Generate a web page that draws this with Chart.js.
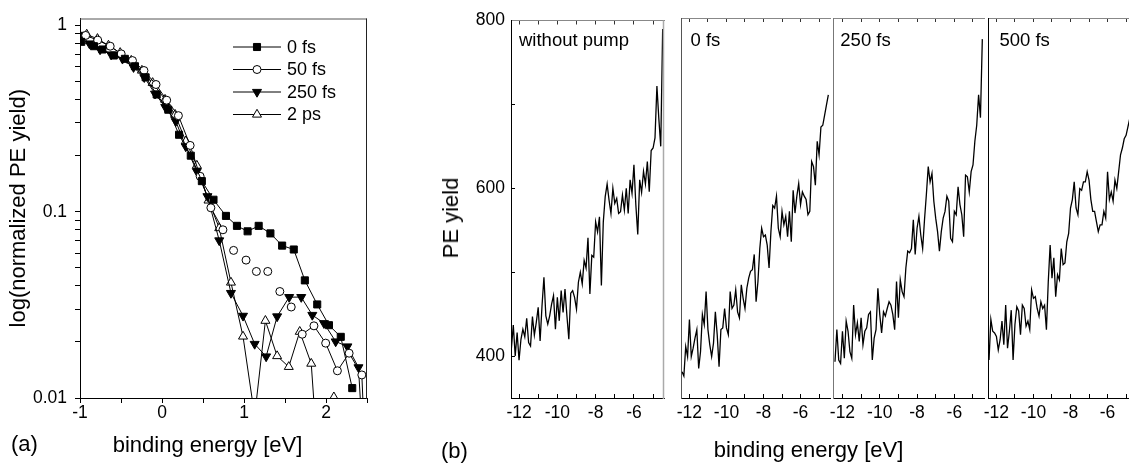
<!DOCTYPE html>
<html><head><meta charset="utf-8">
<script src="https://cdn.jsdelivr.net/npm/chart.js@4.4.0/dist/chart.umd.min.js"></script>
<style>
html,body{margin:0;padding:0;overflow:hidden;background:#fff;width:1129px;height:465px;position:relative;}
canvas{position:absolute;top:0;}
.t{position:absolute;font-family:'Liberation Sans',Arial,Helvetica,sans-serif;color:#000;white-space:nowrap;line-height:1;font-size:22px;}
</style></head><body>
<canvas id="ca" width="380" height="465" style="left:0px"></canvas>
<canvas id="cb1" width="250" height="465" style="left:420px"></canvas>
<canvas id="cb2" width="173" height="465" style="left:667px"></canvas>
<canvas id="cb3" width="174" height="465" style="left:820px"></canvas>
<canvas id="cb4" width="173" height="465" style="left:974px"></canvas>
<div class="t" style="left:11px;top:433px">(a)</div>
<div class="t" style="left:207.5px;top:434px;transform:translateX(-50%)">binding energy [eV]</div>
<div class="t" style="left:441px;top:440px">(b)</div>
<div class="t" style="left:808.5px;top:439px;transform:translateX(-50%)">binding energy [eV]</div>
<div class="t" style="left:451px;top:218px;transform:translate(-50%,-50%) rotate(-90deg)">PE yield</div>
<script>
// ---------- panel (a) data ----------
const seriesA = ['0 fs', '50 fs', '250 fs', '2 ps'];
const be0fs = [-0.985,-0.83,-0.727,-0.588,-0.453,-0.33,-0.2,-0.065,0.077,0.208,0.351,0.486,0.628,0.78,0.914,1.044,1.179,1.322,1.465,1.607,1.742,1.893,2.036,2.18,2.32];
const y0fs  = [0.817,0.774,0.743,0.69,0.662,0.604,0.527,0.426,0.353,0.259,0.2,0.146,0.116,0.095,0.084,0.0785,0.084,0.0765,0.0658,0.0627,0.0428,0.0318,0.0246,0.0213,0.0113];
const be50fs = [-0.931,-0.784,-0.632,-0.498,-0.36,-0.22,-0.073,0.057,0.2,0.343,0.465,0.596,0.743,0.873,1.025,1.151,1.29,1.437,1.576,1.71,1.853,1.996,2.139,2.282,2.437,2.5];
const y50fs  = [0.884,0.834,0.774,0.704,0.648,0.573,0.482,0.397,0.328,0.227,0.155,0.105,0.08,0.062,0.055,0.0478,0.0478,0.0373,0.0308,0.022,0.0244,0.0197,0.014,0.0174,0.0133,0.003];
const be250fs = [-1.0,-0.885,-0.755,-0.62,-0.482,-0.347,-0.216,-0.085,0.04,0.168,0.29,0.425,0.554,0.698,0.841,0.988,1.13,1.27,1.404,1.551,1.698,1.833,1.975,2.118,2.261,2.396,2.47];
const y250fs  = [0.89,0.8,0.743,0.698,0.662,0.597,0.527,0.43,0.365,0.306,0.224,0.165,0.121,0.0701,0.0366,0.0276,0.0195,0.0167,0.0274,0.0348,0.0348,0.0279,0.0252,0.0201,0.0189,0.0146,0.004];
const be2ps = [-0.918,-0.787,-0.653,-0.51,-0.375,-0.245,-0.114,0.037,0.16,0.29,0.425,0.567,0.698,0.841,0.988,1.13,1.261,1.404,1.546,1.68,1.82,1.96,2.096,2.24];
const y2ps  = [0.895,0.848,0.781,0.713,0.648,0.573,0.492,0.4,0.332,0.239,0.177,0.115,0.0817,0.0417,0.0214,0.008,0.026,0.0168,0.0147,0.0227,0.0153,0.002,0.0101,0.003];
const xTicksA = [-1,-0.5,0,0.5,1,1.5,2,2.5];
const yTicksA = [0.01,0.02,0.03,0.04,0.05,0.06,0.07,0.08,0.09,0.1,0.2,0.3,0.4,0.5,0.6,0.7,0.8,0.9,1];
const yLabelsA = ['0.01','0.1','1'];

// ---------- panel (b) data ----------
const panelsB = ['without pump', '0 fs', '250 fs', '500 fs'];
const energy = [-12.4,-12.3,-12.2,-12.1,-12.0,-11.9,-11.8,-11.7,-11.6,-11.5,-11.4,-11.3,-11.2,-11.1,-11.0,-10.9,-10.8,-10.7,-10.6,-10.5,-10.4,-10.3,-10.2,-10.1,-10.0,-9.9,-9.8,-9.7,-9.6,-9.5,-9.4,-9.3,-9.2,-9.1,-9.0,-8.9,-8.8,-8.7,-8.6,-8.5,-8.4,-8.3,-8.2,-8.1,-8.0,-7.9,-7.8,-7.7,-7.6,-7.5,-7.4,-7.3,-7.2,-7.1,-7.0,-6.9,-6.8,-6.7,-6.6,-6.5,-6.4,-6.3,-6.2,-6.1,-6.0,-5.9,-5.8,-5.7,-5.6,-5.5,-5.4,-5.3,-5.2,-5.1,-5.0,-4.9,-4.8,-4.7,-4.6,-4.5];
const withoutPump = [409,437,400,428,395,420,432,423,445,416,412,447,425,440,458,418,460,494,448,438,448,462,472,432,470,442,478,452,480,448,420,475,478,470,456,488,500,486,514,505,541,474,520,518,560,548,566,484,560,590,605,586,570,600,582,588,570,572,592,574,600,570,610,594,628,580,545,610,595,620,605,632,596,645,648,660,722,683,650,790];
const pump0fs = [381,376,411,399,443,399,409,421,431,385,405,449,437,476,431,413,399,415,452,425,387,431,433,456,433,425,476,456,460,478,452,445,484,468,456,480,492,500,502,520,464,488,527,551,541,543,531,504,547,578,575,589,551,541,571,555,565,541,571,535,596,569,589,604,579,594,589,585,567,571,630,624,602,654,638,671,673,685,697,709];
const pump250fs = [393,431,395,391,429,397,441,429,405,397,460,425,439,417,445,413,429,433,449,452,395,421,431,480,449,427,452,447,456,464,460,449,431,488,445,490,476,470,504,524,522,527,561,520,551,565,543,527,561,591,624,606,616,583,563,547,524,547,563,571,589,583,539,535,571,567,600,579,567,541,614,612,594,618,626,654,673,709,682,775];
const pump500fs = [395,443,429,427,423,407,419,441,413,460,409,429,454,395,437,458,453,425,460,456,435,441,431,478,468,470,456,447,464,456,460,431,488,531,492,516,470,496,490,527,508,510,535,545,575,585,606,575,567,598,596,606,606,618,608,585,571,571,559,547,555,555,571,563,618,585,594,583,608,598,618,638,646,657,661,671,681];
const xTicksB = [-12,-11,-10,-9,-8,-7,-6,-5];
const yTicksB = [400,500,600,700,800];
const yLabelsB = [400,600,800];

// ---------- setup ----------
const FONT = "'Liberation Sans', Arial, Helvetica, sans-serif";
const TICK = 17.5;
Chart.defaults.font.family = FONT;
Chart.defaults.color = '#000';
Chart.defaults.animation = false;

function marker(ctx, style, r, rot, x, y) {
  ctx.beginPath();
  if (style === 'rect') {
    const s = Math.SQRT1_2 * r;
    ctx.rect(x - s, y - s, 2 * s, 2 * s);
  } else if (style === 'circle') {
    ctx.arc(x, y, r, 0, Math.PI * 2);
  } else {
    let a = rot * Math.PI / 180;
    ctx.moveTo(x + Math.sin(a) * r, y - Math.cos(a) * r);
    a += 2 * Math.PI / 3; ctx.lineTo(x + Math.sin(a) * r, y - Math.cos(a) * r);
    a += 2 * Math.PI / 3; ctx.lineTo(x + Math.sin(a) * r, y - Math.cos(a) * r);
    ctx.closePath();
  }
  ctx.fill(); ctx.stroke();
}

const framePlugin = {
  id: 'frame',
  afterDraw(chart, args, o) {
    const a = chart.chartArea, ctx = chart.ctx;
    ctx.save();
    if (o.top) {
      ctx.strokeStyle = o.top; ctx.lineWidth = 1;
      ctx.beginPath(); ctx.moveTo(a.left, a.top + 0.5); ctx.lineTo(a.right, a.top + 0.5); ctx.stroke();
    }
    if (o.right) {
      ctx.strokeStyle = o.right; ctx.lineWidth = o.rightWidth || 1;
      ctx.beginPath(); ctx.moveTo(a.right - 0.5, a.top); ctx.lineTo(a.right - 0.5, a.bottom + 1); ctx.stroke();
    }
    if (o.label) {
      ctx.fillStyle = '#000';
      ctx.font = '18.5px ' + FONT;
      ctx.textBaseline = 'alphabetic'; ctx.textAlign = 'left';
      ctx.fillText(o.label, a.left + o.dx, o.baseline);
    }
    ctx.restore();
  }
};

const lineLegend = {
  id: 'lineLegend',
  afterDraw(chart, args, o) {
    const ctx = chart.ctx;
    chart.data.datasets.forEach((ds, i) => {
      const y = o.y0 + i * o.dy;
      ctx.save();
      ctx.strokeStyle = '#000'; ctx.lineWidth = 1;
      ctx.beginPath(); ctx.moveTo(o.x0, y); ctx.lineTo(o.x1, y); ctx.stroke();
      ctx.fillStyle = ds.pointBackgroundColor; ctx.strokeStyle = '#000';
      marker(ctx, ds.pointStyle, ds.pointRadius, ds.pointRotation || 0, (o.x0 + o.x1) / 2, y);
      ctx.fillStyle = '#000'; ctx.font = o.font + 'px ' + FONT;
      ctx.textBaseline = 'middle'; ctx.textAlign = 'left';
      ctx.fillText(ds.label, o.tx, y + 1);
      ctx.restore();
    });
  }
};

function seriesA_ds(label, xs, ys, style, r, fill, rot, extra) {
  return Object.assign({
    label, data: xs.map((x, i) => ({x, y: ys[i]})),
    borderColor: '#000', borderWidth: 1, tension: 0, fill: false,
    pointStyle: style, pointRadius: r, pointRotation: rot,
    pointBackgroundColor: fill, pointBorderColor: '#000', pointBorderWidth: 1
  }, extra || {});
}

const hide50 = { segment: { borderColor: c => (c.p0.parsed.x > 0.74 && c.p1.parsed.x < 1.72) ? 'rgba(0,0,0,0)' : '#000' } };

new Chart(document.getElementById('ca'), {
  type: 'line',
  data: { datasets: [
    seriesA_ds(seriesA[0], be0fs, y0fs, 'rect', 5, '#000', 0),
    seriesA_ds(seriesA[1], be50fs, y50fs, 'circle', 4, '#fff', 0, hide50),
    seriesA_ds(seriesA[2], be250fs, y250fs, 'triangle', 5.2, '#000', 180),
    seriesA_ds(seriesA[3], be2ps, y2ps, 'triangle', 5.2, '#fff', 0)
  ]},
  options: {
    responsive: false, animation: false,
    layout: { padding: { left: 0, top: 18, right: 13, bottom: 0 } },
    plugins: {
      legend: { display: false }, tooltip: { enabled: false },
      frame: { top: '#555', right: '#222' },
      lineLegend: { x0: 233, x1: 281, tx: 287, y0: 47, dy: 22.5, font: 18 }
    },
    scales: {
      x: {
        type: 'linear', position: 'bottom', min: -1, max: 2.5,
        afterFit: s => { s.height = 67; },
        afterBuildTicks: s => { s.ticks = xTicksA.map(v => ({ value: v })); },
        ticks: { autoSkip: false, maxRotation: 0, padding: 0, font: { size: TICK },
          callback: v => Math.abs(v - Math.round(v)) < 1e-9 ? String(Math.round(v)) : '' },
        grid: { display: true, drawOnChartArea: false, drawTicks: true, tickLength: 5, tickColor: '#000', color: '#000' },
        border: { display: true, color: '#000', width: 1 }
      },
      y: {
        type: 'logarithmic', min: 0.01, max: 1.09,
        afterFit: s => { s.width = 80; },
        afterBuildTicks: s => { s.ticks = yTicksA.map(v => ({ value: v })); },
        title: { display: true, text: 'log(normalized PE yield)', font: { size: 22 }, padding: { top: 6, bottom: 0 } },
        ticks: { autoSkip: false, padding: 8, font: { size: TICK },
          callback: v => { const e = Math.log10(v), r = Math.round(e); return Math.abs(e - r) < 1e-6 ? yLabelsA[r + 2] : ''; } },
        grid: { display: true, drawOnChartArea: false, drawTicks: true, tickLength: 5, tickColor: '#000', color: '#000' },
        border: { display: true, color: '#000', width: 1 }
      }
    }
  },
  plugins: [framePlugin, lineLegend]
});

function spectrum(id, ys, xr, cfg) {
  const pts = ys.map((y, i) => ({ x: energy[i], y }));
  return new Chart(document.getElementById(id), {
    type: 'line',
    data: { datasets: [{ data: pts, borderColor: '#000', borderWidth: 1.3, pointRadius: 0, tension: 0, fill: false }] },
    options: {
      responsive: false, animation: false,
      layout: { padding: { left: 0, top: 18, right: cfg.padRight, bottom: 0 } },
      plugins: {
        legend: { display: false }, tooltip: { enabled: false },
        frame: { right: cfg.rightColor, rightWidth: cfg.rightWidth || 1, label: cfg.label, dx: cfg.dx, baseline: 46 }
      },
      scales: {
        x: {
          type: 'linear', position: 'bottom', min: xr[0], max: xr[1],
          afterFit: s => { s.height = 67; },
          afterBuildTicks: s => { s.ticks = xTicksB.map(v => ({ value: v })); },
          ticks: { autoSkip: false, maxRotation: 0, padding: 9, font: { size: TICK },
            callback: v => (Math.round(v) % 2 === 0) ? String(Math.round(v)) : '' },
          grid: { display: true, drawOnChartArea: false, drawTicks: true, tickLength: -4, tickColor: '#000', color: '#000' },
          border: { display: true, color: '#000', width: 1 }
        },
        x2: {
          type: 'linear', position: 'top', min: xr[0], max: xr[1],
          afterFit: s => { s.height = 0; },
          afterBuildTicks: s => { s.ticks = xTicksB.map(v => ({ value: v })); },
          ticks: { display: false },
          grid: { display: true, drawOnChartArea: false, drawTicks: true, tickLength: -4, tickColor: '#333', color: '#333' },
          border: { display: true, color: '#888', width: 1 }
        },
        y: {
          type: 'linear', min: 350, max: 800,
          afterFit: s => { s.width = cfg.yWidth; },
          afterBuildTicks: s => { s.ticks = yTicksB.map(v => ({ value: v })); },
          ticks: { display: cfg.first, autoSkip: false, padding: 10, font: { size: TICK },
            callback: v => yLabelsB.includes(v) ? String(v) : '' },
          grid: { display: cfg.first, drawOnChartArea: false, drawTicks: true, tickLength: -4, tickColor: '#000', color: '#000' },
          border: { display: true, color: cfg.leftColor, width: 1 }
        }
      }
    },
    plugins: [framePlugin]
  });
}

spectrum('cb1', withoutPump, [-12.42, -4.43], { first: true, yWidth: 91, padRight: 6, leftColor: '#000', rightColor: '#aaa', rightWidth: 1.5, label: panelsB[0], dx: 8 });
spectrum('cb2', pump0fs, [-12.43, -4.41], { first: false, yWidth: 10, padRight: 10, leftColor: '#555', rightColor: null, label: panelsB[1], dx: 9 });
spectrum('cb3', pump250fs, [-12.49, -4.41], { first: false, yWidth: 10, padRight: 10, leftColor: '#777', rightColor: null, label: panelsB[2], dx: 7 });
spectrum('cb4', pump500fs, [-12.43, -4.41], { first: false, yWidth: 10, padRight: 10, leftColor: '#000', rightColor: '#000', label: panelsB[3], dx: 11 });
</script>
</body></html>
